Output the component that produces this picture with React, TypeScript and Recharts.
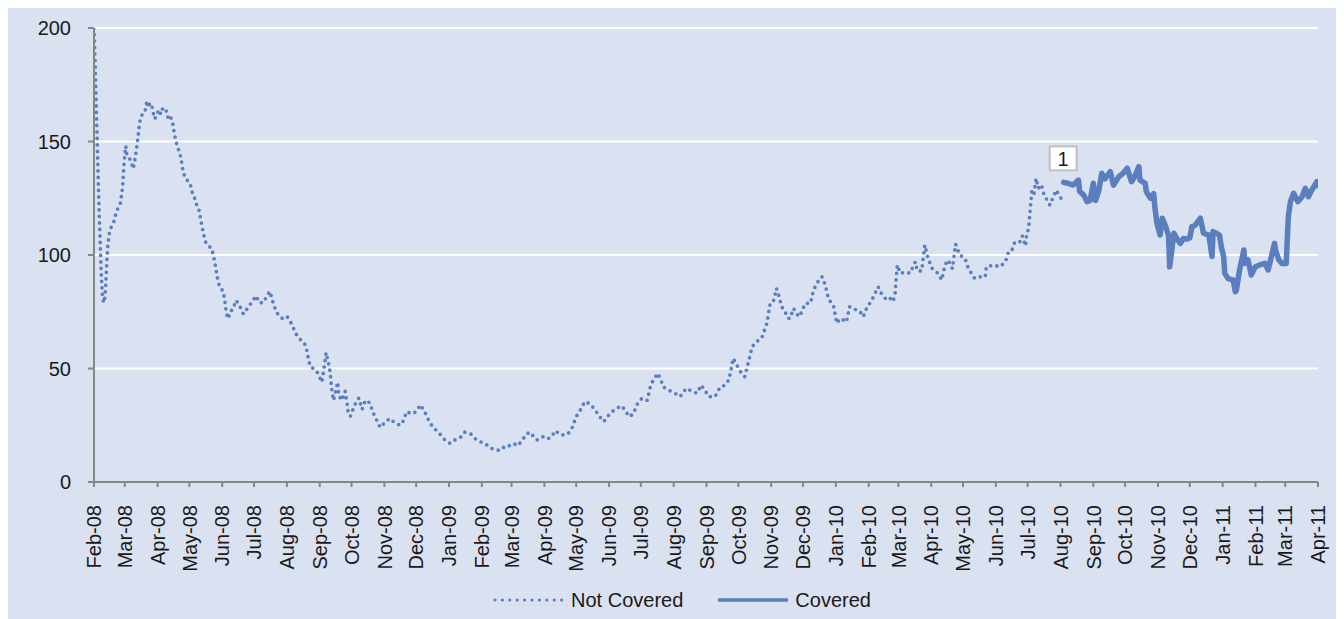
import React from 'react';
import { LineChart, Line, XAxis, YAxis, CartesianGrid, Legend, ReferenceDot } from 'recharts';

// Month ticks: days since 1-Feb-2008
const monthTickDays = [0, 29, 60, 90, 121, 151, 182, 213, 243, 274, 304, 335, 366, 394, 425, 455, 486, 516, 547, 578, 608, 639, 669, 700, 731, 759, 790, 820, 851, 881, 912, 943, 973, 1004, 1034, 1065, 1096, 1124, 1155];
const monthTickLabels = ['Feb-08', 'Mar-08', 'Apr-08', 'May-08', 'Jun-08', 'Jul-08', 'Aug-08', 'Sep-08', 'Oct-08', 'Nov-08', 'Dec-08', 'Jan-09', 'Feb-09', 'Mar-09', 'Apr-09', 'May-09', 'Jun-09', 'Jul-09', 'Aug-09', 'Sep-09', 'Oct-09', 'Nov-09', 'Dec-09', 'Jan-10', 'Feb-10', 'Mar-10', 'Apr-10', 'May-10', 'Jun-10', 'Jul-10', 'Aug-10', 'Sep-10', 'Oct-10', 'Nov-10', 'Dec-10', 'Jan-11', 'Feb-11', 'Mar-11', 'Apr-11'];
const yTicks = [0, 50, 100, 150, 200];

const notCoveredDays = [0, 1, 2, 3, 4, 5, 6, 7, 8, 9, 10, 11, 12, 13, 14, 15, 17, 19, 21, 23, 25, 27, 28, 29, 30, 31, 33, 35, 37, 39, 41, 43, 44, 46, 48, 50, 51, 53, 55, 57, 59, 61, 63, 65, 67, 69, 70, 72, 74, 76, 78, 80, 82, 84, 86, 88, 91, 93, 95, 97, 99, 101, 103, 105, 108, 111, 113, 114, 116, 118, 120, 122, 124, 125, 127, 128, 131, 134, 137, 141, 144, 147, 150, 153, 156, 160, 163, 166, 169, 172, 175, 178, 182, 185, 188, 191, 194, 197, 200, 202, 204, 207, 210, 213, 215, 217, 219, 221, 223, 224, 226, 228, 230, 231, 234, 237, 239, 240, 242, 246, 250, 253, 256, 260, 264, 267, 270, 274, 279, 284, 289, 292, 295, 300, 304, 308, 312, 316, 320, 325, 330, 336, 342, 347, 350, 356, 360, 363, 369, 374, 380, 384, 388, 392, 396, 400, 405, 408, 411, 415, 418, 424, 428, 432, 435, 441, 447, 451, 455, 460, 463, 468, 473, 476, 481, 487, 493, 498, 502, 505, 509, 512, 517, 522, 525, 527, 532, 535, 537, 542, 547, 553, 559, 564, 569, 573, 577, 580, 586, 591, 595, 599, 602, 603, 606, 610, 614, 618, 621, 625, 630, 635, 638, 641, 644, 646, 649, 652, 655, 657, 660, 665, 668, 671, 676, 679, 684, 687, 690, 693, 698, 701, 704, 707, 710, 713, 717, 720, 723, 726, 729, 734, 737, 740, 743, 748, 751, 754, 756, 757, 758, 761, 765, 770, 775, 777, 781, 784, 787, 791, 795, 800, 803, 806, 810, 813, 817, 822, 825, 828, 831, 836, 841, 842, 849, 855, 860, 863, 866, 869, 874, 876, 879, 880, 882, 883, 884, 885, 887, 889, 891, 894, 897, 900, 902, 905, 908, 911, 914];
const notCoveredValues = [200, 186, 168, 151, 133, 117, 103, 90, 82, 79, 80, 86, 96, 104, 108, 111, 113, 115, 119, 121, 123, 130, 138, 144, 148, 144, 143, 141, 138, 143, 150, 158, 161, 162, 163, 168, 165, 167, 165, 160, 161, 164, 162, 165, 164, 163, 160, 161, 159, 153, 149, 146, 143, 137, 134, 133, 131, 127, 125, 122, 120, 115, 110, 106, 104, 103, 99, 97, 91, 87, 85, 84, 78, 74, 72, 75, 76, 80, 78, 74, 76, 78, 80, 82, 79, 79, 82, 84, 79, 75, 73, 72, 73, 71, 68, 65, 63, 62, 60, 55, 51, 50, 49, 46, 44, 50, 57, 53, 48, 42, 36, 40, 44, 38, 36, 40, 34, 30, 29, 34, 37, 32, 36, 35, 30, 27, 24, 26, 28, 26, 25, 27, 31, 30, 31, 34, 31, 27, 24, 22, 19, 17, 19, 20, 22, 21, 19, 18, 17, 15, 14, 14, 16, 16, 17, 16, 19, 21, 22, 20, 18.5, 20, 19, 20, 22.6, 20.7, 21, 23.7, 28.8, 32.5, 35.4, 34.5, 31.7, 29.5, 26.6, 30.3, 32.5, 33.6, 31, 28.8, 30, 33.9, 36.9, 36, 42, 44.2, 47.9, 45, 42, 40.5, 39.5, 37.6, 41.3, 40, 39.1, 42.7, 40, 37.6, 37.6, 42, 42.5, 44.9, 51.5, 54.5, 52, 48.6, 46.4, 53.7, 59.6, 61.8, 63.3, 70, 78.5, 79.4, 85.3, 82.4, 77.2, 75, 72.1, 72.1, 76.5, 72.8, 75, 78.7, 78.7, 84.6, 89, 90.4, 86.8, 80.9, 77.2, 69.9, 72, 71.4, 70.5, 77.2, 76, 76, 75, 72.8, 76.5, 80.2, 83.1, 86, 83, 80.2, 81, 79.5, 83.1, 90, 95.6, 91.9, 92.5, 92, 97, 93, 93, 104.4, 98.5, 94.1, 92.7, 89, 95.6, 97.8, 94, 104.8, 100, 98.5, 94.1, 92, 89.7, 90.4, 90.4, 94.8, 95.6, 94.8, 97, 101.5, 102, 105.9, 105.9, 108.4, 104, 108.9, 111.8, 117.6, 122.8, 128.6, 127, 133.8, 129.4, 131, 125.7, 124, 122, 125.5, 128.6, 126, 124];

const coveredDays = [915, 919, 924, 929, 930, 934, 937, 940, 943, 945, 948, 951, 954, 959, 962, 967, 971, 975, 979, 982, 986, 987, 992, 993, 997, 1000, 1001, 1003, 1006, 1008, 1011, 1014, 1015, 1017, 1019, 1022, 1025, 1028, 1031, 1034, 1036, 1039, 1044, 1047, 1052, 1055, 1056, 1059, 1062, 1064, 1066, 1067, 1070, 1074, 1075, 1077, 1078, 1081, 1085, 1086, 1089, 1092, 1096, 1100, 1105, 1108, 1111, 1114, 1115, 1118, 1121, 1125, 1127, 1129, 1132, 1136, 1140, 1143, 1146, 1149, 1154, 1155];
const coveredValues = [132, 131.6, 130.8, 133, 128, 126.4, 123.5, 124, 131.6, 124, 128, 136, 133.5, 136.7, 130.8, 134.5, 136, 138.2, 132.3, 134.5, 138.9, 133, 131.6, 127.9, 125, 127, 121.3, 114, 108.8, 116.2, 113, 108.5, 94.8, 102, 109.6, 107, 105.1, 107.3, 107, 107.5, 112.5, 113, 116.2, 109.6, 108.8, 99.3, 110.3, 109.6, 108.8, 103, 99.3, 91.9, 89.7, 89, 89, 83.8, 84.5, 93.4, 102.2, 96.3, 97.8, 91.2, 94.8, 95.6, 96.3, 93.4, 99.3, 105.1, 102, 97.8, 96.3, 96.3, 116.9, 123.5, 127.2, 123.5, 125.7, 129.4, 125.7, 128.5, 132.3, 130.5];

const annotationLabel = '1';
const seriesNames = ['Not Covered', 'Covered'];

const BLUE = '#5A7EBE';
const AXIS = '#868686';
const TEXT = '#1a1a1a';
const BG = '#DAE1F0';
const FONT = '"Liberation Sans", Arial, sans-serif';

const rows = [
  ...notCoveredDays.map((d, i) => ({ day: d, notCovered: notCoveredValues[i] })),
  ...coveredDays.map((d, i) => ({ day: d, covered: coveredValues[i] })),
];

const XTick = (props: any) => {
  const { x, y, payload } = props;
  const idx = monthTickDays.indexOf(payload.value);
  return (
    <g transform={`translate(${x},${y})`}>
      <text transform="rotate(-90)" x={-18} y={0} dy="0.36em" textAnchor="end" fontSize={20} fontFamily={FONT} fill={TEXT}>
        {monthTickLabels[idx]}
      </text>
    </g>
  );
};

const Annotation = (props: any) => {
  const { cx, cy } = props;
  return (
    <g>
      <rect x={cx - 14} y={cy - 36} width={27} height={24} fill="#ffffff" stroke="#bfbfbf" strokeWidth={2} />
      <text x={cx - 0.5} y={cy - 24} dy="0.36em" textAnchor="middle" fontSize={20} fontFamily={FONT} fill={TEXT}>
        {annotationLabel}
      </text>
    </g>
  );
};

const LegendContent = () => (
  <div style={{ display: 'flex', justifyContent: 'center', alignItems: 'center', height: 26, paddingLeft: 12, fontFamily: FONT, fontSize: 20, color: TEXT, lineHeight: '26px' }}>
    <svg width={72} height={10}>
      <line x1={3} y1={5} x2={70} y2={5} stroke={BLUE} strokeWidth={3.2} strokeDasharray="0 7.4" strokeLinecap="round" />
    </svg>
    <span style={{ marginLeft: 7 }}>{seriesNames[0]}</span>
    <svg width={72} height={10} style={{ marginLeft: 34 }}>
      <line x1={1} y1={5} x2={71} y2={5} stroke={BLUE} strokeWidth={3.5} />
    </svg>
    <span style={{ marginLeft: 6 }}>{seriesNames[1]}</span>
  </div>
);

export default function App() {
  return (
    <div style={{ position: 'relative', left: -1, top: -2, width: 1337, height: 613, background: BG }}>
      <LineChart width={1337} height={613} data={rows} margin={{ top: 22, right: 26, left: 0, bottom: 6 }}>
        <CartesianGrid vertical={false} stroke="#ffffff" strokeWidth={2} />
        <XAxis
          dataKey="day"
          type="number"
          domain={[0, 1155]}
          ticks={monthTickDays}
          interval={0}
          height={105}
          tickSize={5}
          tickMargin={0}
          stroke={AXIS}
          strokeWidth={2}
          tickLine={{ stroke: AXIS, strokeWidth: 2 }}
          tick={<XTick />}
          allowDataOverflow
        />
        <YAxis
          domain={[0, 200]}
          ticks={yTicks}
          width={87}
          tickSize={6}
          tickMargin={17}
          stroke={AXIS}
          strokeWidth={2}
          tickLine={{ stroke: AXIS, strokeWidth: 2 }}
          tick={{ fontSize: 20, fontFamily: FONT, fill: TEXT }}
          allowDataOverflow
        />
        <Legend verticalAlign="bottom" height={26} content={<LegendContent />} wrapperStyle={{ left: 0, width: 1337, height: 26, bottom: 6 }} />
        <Line
          type="linear"
          dataKey="notCovered"
          name={seriesNames[0]}
          stroke={BLUE}
          strokeWidth={3.7}
          strokeDasharray="0 6.5"
          strokeLinecap="round"
          dot={false}
          activeDot={false}
          isAnimationActive={false}
        />
        <Line
          type="linear"
          dataKey="covered"
          name={seriesNames[1]}
          stroke={BLUE}
          strokeWidth={5.5}
          strokeLinejoin="round"
          strokeLinecap="round"
          dot={false}
          activeDot={false}
          isAnimationActive={false}
        />
        <ReferenceDot x={coveredDays[0]} y={coveredValues[0]} r={0} shape={<Annotation />} ifOverflow="visible" />
      </LineChart>
    </div>
  );
}
